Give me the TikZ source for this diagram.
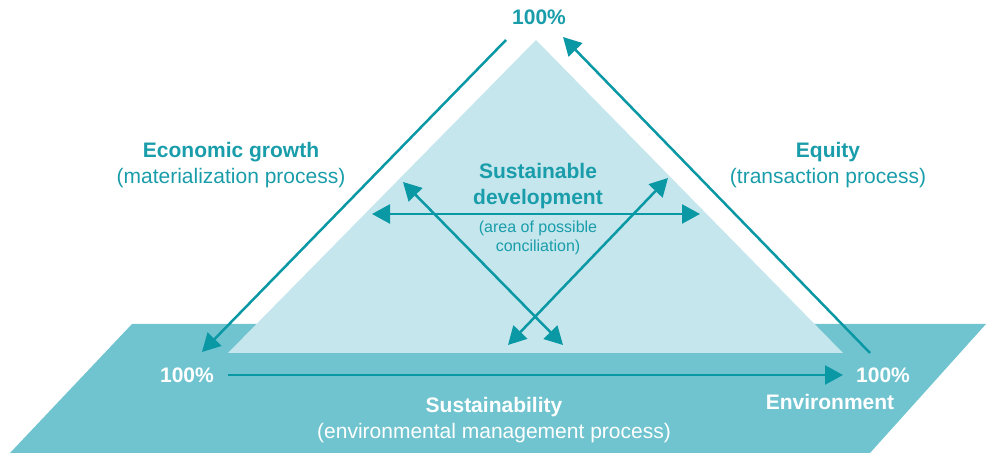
\documentclass[tikz,border=0pt]{standalone}
\usepackage{fontspec}
\setmainfont{Liberation Sans}
\usetikzlibrary{arrows.meta}
\definecolor{tealline}{HTML}{0A98A5}
\definecolor{tealtext}{HTML}{1A9DAA}
\definecolor{paletri}{HTML}{C5E6EC}
\definecolor{ground}{HTML}{70C4CF}

\begin{document}
\begin{tikzpicture}[x=0.5pt,y=-0.5pt,
  >={Triangle[length=9pt,width=9.5pt]}]
\tikzstyle{lbl} = [font=\fontsize{10.5}{13}\selectfont, align=center, inner sep=0pt]
\tikzstyle{small} = [font=\fontsize{8}{9.5}\selectfont, align=center, inner sep=0pt]
\tikzstyle{conn} = [tealline, line width=1.25pt]

\useasboundingbox (0,0) rectangle (986,453);

% ground plane and triangle
\fill[ground] (132,324) -- (986,324) -- (870,453) -- (10,453) -- cycle;
\fill[paletri] (536,40) -- (843,353) -- (228,353) -- cycle;

% free ends of the connectors
\coordinate (ecotop) at (506,40);
\coordinate (ecoend) at (202,352);
\coordinate (eqstart) at (870,353);
\coordinate (eqend) at (563,37);
\coordinate (envstart) at (228,375);
\coordinate (envend) at (843,375);
\coordinate (hl) at (372,214);
\coordinate (hr) at (700,214);
\coordinate (da) at (403,182);
\coordinate (db) at (563,345);
\coordinate (ea) at (668,178);
\coordinate (eb) at (508,345);

\draw[conn,->] (ecotop) -- (ecoend);
\draw[conn,->] (eqstart) -- (eqend);
\draw[conn,->] (envstart) -- (envend);
\draw[conn,<->] (hl) -- (hr);
\draw[conn,<->] (da) -- (db);
\draw[conn,<->] (ea) -- (eb);

% labels
\node[lbl, tealtext] (ptop) at (539,17) {\bfseries 100\%};
\node[lbl, white] (pleft) at (187,375) {\bfseries 100\%};
\node[lbl, white] (pright) at (883,375) {\bfseries 100\%};
\node[lbl, white] (env) at (830,402) {\bfseries Environment};
\node[lbl, tealtext] (eco) at (231,165) {\textbf{Economic growth}\\(materialization process)};
\node[lbl, tealtext] (equity) at (828,165) {\textbf{Equity}\\(transaction process)};
\node[lbl, tealtext] (sdev) at (538,186) {\textbf{Sustainable}\\\textbf{development}};
\node[small, tealtext] (concil) at (538,238) {(area of possible\\conciliation)};
\node[lbl, white] (sust) at (494,420) {\textbf{Sustainability}\\(environmental management process)};

\end{tikzpicture}
\end{document}
